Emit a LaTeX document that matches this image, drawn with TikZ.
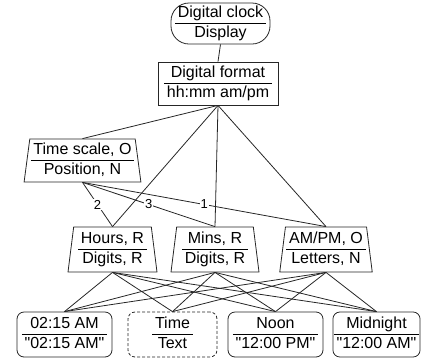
\documentclass[tikz,border=0pt]{standalone}
\usepackage{fontspec}
\newfontfamily\plainsans{Liberation Sans}
\usetikzlibrary{shapes.geometric}
\newcommand{\twol}[2]{\begin{tabular}{@{\,}c@{\,}}#1\\\hline #2\end{tabular}}
\begin{document}
\begin{tikzpicture}[x=1pt,y=-1pt, font=\plainsans\fontsize{16}{19}\selectfont,
 box/.style={draw=black!85, line width=0.8pt, inner sep=1pt, minimum height=43pt},
 trap/.style={box, trapezium, trapezium left angle=82, trapezium right angle=82, trapezium stretches body, minimum height=45pt},
 val/.style={box, rounded corners=7pt, minimum height=45pt},
 conn/.style={draw=black!85, line width=0.8pt},
 lab/.style={fill=white, inner sep=1pt, font=\plainsans\fontsize{13}{15}\selectfont}]
\useasboundingbox (0,0) rectangle (421,360);
\node[box, rounded corners=18pt, minimum width=99pt, minimum height=41pt] (clock) at (220.5,23.5) {\twol{Digital clock}{Display}};
\node[box, minimum width=120pt] (format) at (218,83.5) {\twol{Digital format}{hh:mm am/pm}};
\node[trap, minimum width=113pt, minimum height=43pt] (scale) at (82.5,160.5) {\twol{Time scale, O}{Position, N}};
\node[trap, minimum width=89pt] (hours) at (112.5,249.5) {\twol{Hours, R}{Digits, R}};
\node[trap, minimum width=88pt] (mins) at (215,249.5) {\twol{Mins, R}{Digits, R}};
\node[trap, minimum width=92pt] (ampm) at (326,249.5) {\twol{AM/PM, O}{Letters, N}};
\node[val, minimum width=95pt] (v1) at (64.5,334.5) {\twol{02:15 AM}{"02:15 AM"}};
\node[val, dash pattern=on 3pt off 2pt, minimum width=89pt] (v2) at (172.5,334.5) {\twol{Time}{Text}};
\node[val, minimum width=95pt] (v3) at (275.5,334.5) {\twol{Noon}{"12:00 PM"}};
\node[val, minimum width=87pt] (v4) at (376.5,334.5) {\twol{Midnight}{"12:00 AM"}};
\draw[conn] (clock.south) -- (format.north);
\foreach \t in {scale,hours,mins,ampm} \draw[conn] (format.south) -- (\t.north);
\draw[conn] (scale.south) -- node[lab] {2} (hours.north);
\draw[conn] (scale.south) -- node[lab] {3} (mins.north);
\draw[conn] (scale.south) -- node[lab] {1} (ampm.north);
\foreach \a in {hours,mins,ampm}
  \foreach \b in {v1,v2,v3,v4}
    \draw[conn] (\a.south) -- (\b.north);
\end{tikzpicture}
\end{document}
